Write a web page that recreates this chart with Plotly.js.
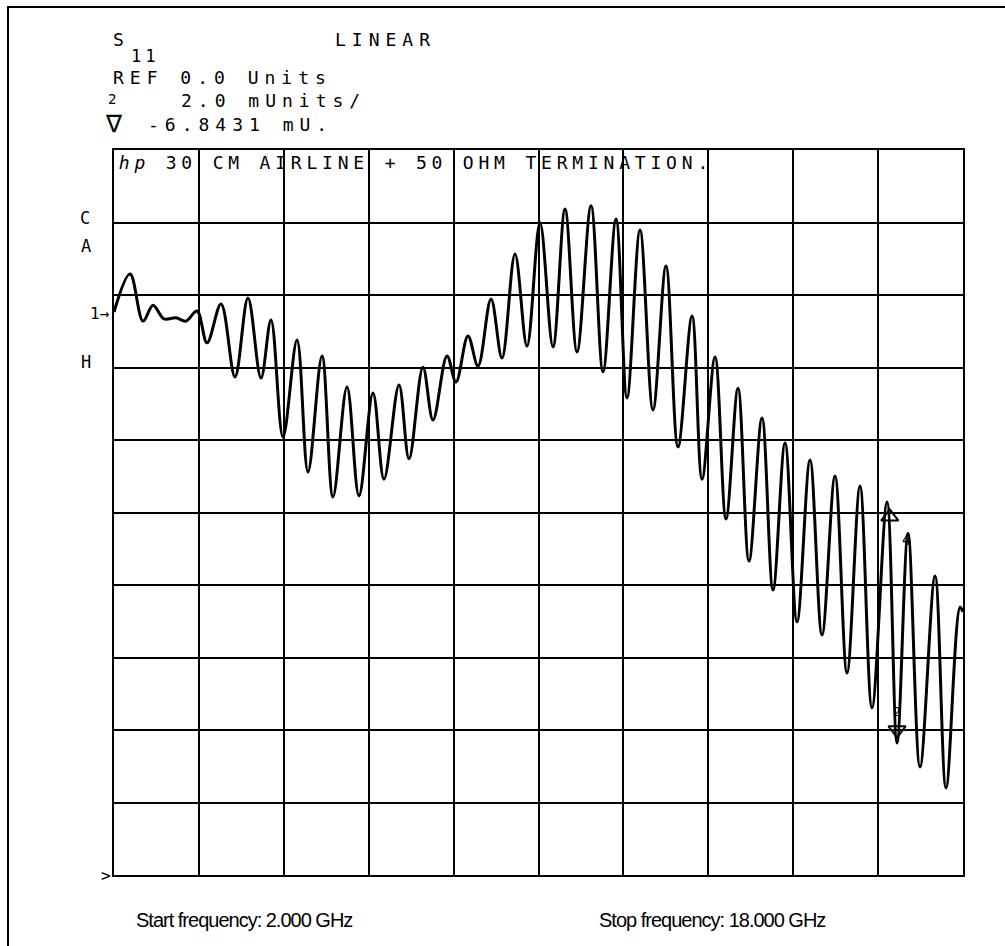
<!DOCTYPE html>
<html>
<head>
<meta charset="utf-8">
<script src="https://cdn.plot.ly/plotly-3.0.1.min.js"></script>
<style>
  html, body { margin: 0; padding: 0; background: #fff; }
  #chart { width: 1005px; height: 946px; }
</style>
</head>
<body>
<div id="chart"></div>
<script>
// Frequency (GHz) of each turning point of the S11 trace
const freqGHz = [
  2.000, 2.302, 2.547, 2.735, 2.942, 3.168, 3.357, 3.564, 3.753, 4.017,
  4.280, 4.525, 4.770, 4.959, 5.185, 5.449, 5.656, 5.920, 6.127, 6.391,
  6.617, 6.881, 7.088, 7.371, 7.560, 7.823, 8.012, 8.276, 8.445, 8.671,
  8.860, 9.105, 9.312, 9.557, 9.783, 10.028, 10.273, 10.500, 10.726, 10.990,
  11.216, 11.461, 11.668, 11.913, 12.158, 12.403, 12.629, 12.893, 13.082, 13.327,
  13.534, 13.760, 13.967, 14.212, 14.420, 14.646, 14.872, 15.117, 15.343, 15.588,
  15.814, 16.059, 16.285, 16.568, 16.757, 16.964, 17.190, 17.473, 17.680, 17.944,
  18.000
];
// Linear magnitude of S11 (mUnits), REF 0.0 Units at bottom line, 2.0 mUnits/div
const s11mU = [
  15.53, 16.58, 15.28, 15.72, 15.34, 15.37, 15.28, 15.56, 14.68, 15.75,
  13.74, 15.92, 13.71, 15.31, 12.08, 14.76, 11.12, 14.32, 10.43, 13.46,
  10.46, 13.30, 10.92, 13.52, 11.48, 14.01, 12.55, 14.32, 13.60, 14.87,
  14.04, 15.89, 14.26, 17.13, 14.59, 17.99, 14.57, 18.37, 14.43, 18.46,
  13.88, 18.10, 13.16, 17.79, 12.83, 16.80, 11.81, 15.42, 10.92, 14.29,
  9.82, 13.43, 8.66, 12.61, 7.86, 11.92, 6.98, 11.45, 6.62, 11.01,
  5.57, 10.73, 4.61, 10.29, 3.64, 9.43, 2.98, 8.25, 2.40, 7.39,
  7.26
];
// Marker symbols on the trace (delta reference and marker 2)
const markerFreq = [16.62, 16.757];
const markerMag = [9.88, 4.0];
const markerSymbols = ['triangle-up-open', 'triangle-down-open'];

const W = 1005, H = 946;
const L = 114, R = 963, T = 150, B = 875;
const px = x => (x - L) / (R - L);
const py = y => (B - y) / (B - T);

const mono = 'DejaVu Sans Mono, Liberation Mono, monospace';
const sans = 'Liberation Sans, Arial, sans-serif';
const spacing = [];
function txt(text, x, y, opts) {
  opts = opts || {};
  const ls = opts.ls || 0;
  const plain = text.replace(/<[^>]+>/g, '');
  spacing.push(ls);
  // Plotly measures the text without CSS letter-spacing; compensate the centring shift
  const shift = plain.length * ls / 2;
  return {
    text: text, x: px(x + shift), y: py(y), xref: 'paper', yref: 'paper',
    xanchor: opts.xanchor || 'left', yanchor: 'middle', showarrow: false,
    font: { family: opts.family || mono, size: opts.size || 18, color: '#000' }
  };
}

const annotations = [
  txt('S', 111, 40),
  txt('11', 129, 56, {size: 17, ls: 4}),
  txt('LINEAR', 333, 40, {ls: 6}),
  txt('REF 0.0 Units', 111, 78, {ls: 6}),
  txt('2', 106, 99, {size: 14}),
  txt('2.0 mUnits/', 179, 101, {ls: 6}),
  txt('\u2207', 103, 124, {size: 24, family: 'DejaVu Sans'}),
  txt('-6.8431 mU.', 146, 124, {ls: 6}),
  txt('<i>hp</i> 30 CM AIRLINE + 50 OHM TERMINATION.', 117, 163, {ls: 4.8}),
  txt('C', 78, 218, {size: 17}),
  txt('A', 79, 246, {size: 17}),
  txt('1\u2192', 112, 313, {size: 16, xanchor: 'right'}),
  txt('H', 79, 362, {size: 17}),
  txt('>', 99, 875, {size: 16}),
  txt('4', 900, 540, {size: 15}),
  txt('2', 891, 711, {size: 13}),
  txt('Start frequency: 2.000 GHz', 134, 920, {family: sans, size: 20, ls: -1}),
  txt('Stop frequency: 18.000 GHz', 597, 920, {family: sans, size: 20, ls: -1})
];

// letter-spacing styles for the plotter-style texts
const css = spacing.map((ls, i) => ls ?
  'g.annotation[data-index="' + i + '"] .annotation-text{letter-spacing:' + ls + 'px;}' : '').join('\n');
const styleEl = document.createElement('style');
styleEl.textContent = css;
document.head.appendChild(styleEl);

const axisCommon = {
  showgrid: true, gridcolor: '#000', gridwidth: 2,
  showline: true, linecolor: '#000', linewidth: 2, mirror: true,
  zeroline: false, showticklabels: false, ticks: '', fixedrange: true
};

const data = [
  {
    x: freqGHz, y: s11mU, type: 'scatter', mode: 'lines',
    line: { color: '#000', width: 3, shape: 'spline', smoothing: 1.0 },
    hoverinfo: 'skip'
  },
  {
    x: markerFreq, y: markerMag, type: 'scatter', mode: 'markers',
    marker: { symbol: markerSymbols, size: 15, color: '#000', line: { color: '#000', width: 2 } },
    hoverinfo: 'skip'
  }
];

const layout = {
  width: W, height: H,
  margin: { l: L, r: W - R, t: T, b: H - B, pad: 0 },
  paper_bgcolor: '#fff', plot_bgcolor: '#fff',
  showlegend: false,
  xaxis: Object.assign({ range: [2, 18], tick0: 2, dtick: 1.6 }, axisCommon),
  yaxis: Object.assign({ range: [0, 20], tick0: 0, dtick: 2 }, axisCommon),
  annotations: annotations,
  shapes: [
    { type: 'rect', xref: 'paper', yref: 'paper',
      x0: px(8), x1: px(1012), y0: py(7), y1: py(955),
      line: { color: '#000', width: 2 }, fillcolor: 'rgba(0,0,0,0)', layer: 'below' }
  ]
};

Plotly.newPlot('chart', data, layout, { displayModeBar: false, staticPlot: true });
</script>
</body>
</html>
